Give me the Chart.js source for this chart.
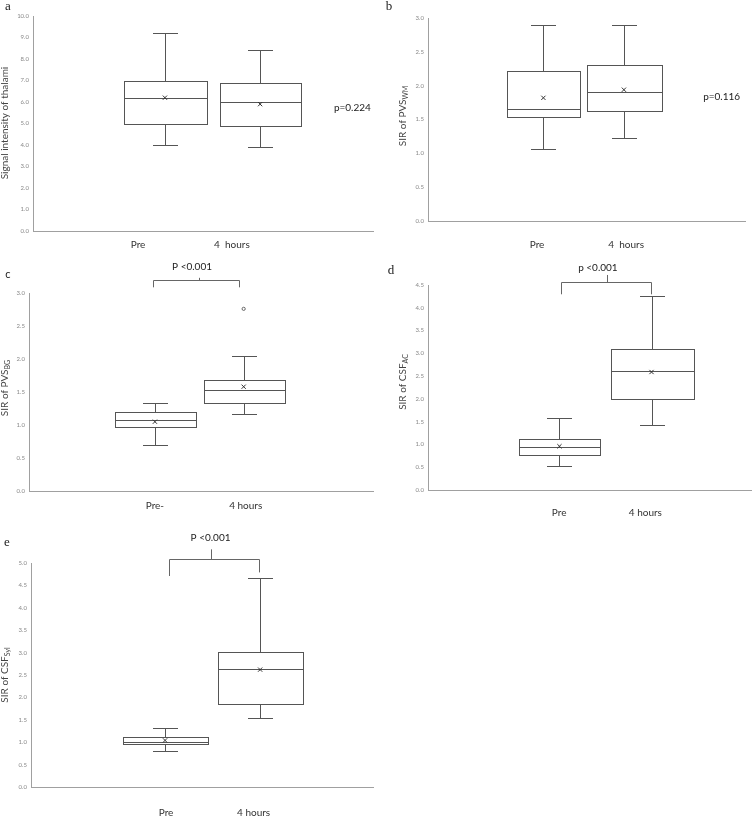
<!DOCTYPE html>
<html>
<head>
<meta charset="utf-8">
<script src="https://cdn.jsdelivr.net/npm/chart.js@4.4.1/dist/chart.umd.min.js"></script>
<style>
  body { margin: 0; background: #fff; }
  #wrap { position: relative; width: 756px; height: 817px; overflow: hidden; }
</style>
</head>
<body>
<div id="wrap"></div>
<script>
// five-number summaries: [min, q1, median, q3, max]
const thalamiPre = [4.0, 5.0, 6.2, 7.0, 9.2];
const thalamiPost = [3.9, 4.9, 6.0, 6.9, 8.4];
const thalamiMeans = [6.2, 5.9];

const pvsWmPre = [1.06, 1.54, 1.66, 2.22, 2.90];
const pvsWmPost = [1.23, 1.62, 1.91, 2.31, 2.90];
const pvsWmMeans = [1.82, 1.94];

const pvsBgPre = [0.70, 0.97, 1.07, 1.19, 1.33];
const pvsBgPost = [1.16, 1.33, 1.53, 1.68, 2.04];
const pvsBgMeans = [1.05, 1.58];
const pvsBgOutliersPost = [2.76];

const csfAcPre = [0.52, 0.77, 0.94, 1.11, 1.57];
const csfAcPost = [1.43, 1.99, 2.62, 3.10, 4.25];
const csfAcMeans = [0.96, 2.59];

const csfSylPre = [0.80, 0.95, 1.00, 1.11, 1.31];
const csfSylPost = [1.54, 1.86, 2.64, 3.02, 4.67];
const csfSylMeans = [1.04, 2.62];

const labelsAB = ['Pre', '4  hours'];
const labelsC = ['Pre-', '4 hours'];
const labelsDE = ['Pre', '4 hours'];

const wrap = document.getElementById('wrap');
const SANS = 'Lato, "Open Sans", sans-serif';
const SERIF = '"Liberation Serif", "DejaVu Serif", serif';

function boxPlugin(cfg) {
    return {
        id: 'boxes',
        beforeDatasetsDraw(chart) {
            const { ctx, scales: { x, y } } = chart;
            const crisp = v => Math.round(v) + 0.5;
            ctx.save();
            ctx.strokeStyle = '#555';
            ctx.lineWidth = 1;
            [cfg.pre, cfg.post].forEach((b, i) => {
                const cx = crisp(x.getPixelForValue(cfg.xPos[i]));
                const hw = x.getPixelForValue(cfg.xPos[i] + cfg.boxHalf[i]) - x.getPixelForValue(cfg.xPos[i]);
                const cw = x.getPixelForValue(cfg.xPos[i] + cfg.capHalf) - x.getPixelForValue(cfg.xPos[i]);
                const [mn, q1, md, q3, mx] = b.map(v => crisp(y.getPixelForValue(v)));
                ctx.beginPath();
                ctx.moveTo(cx, mx); ctx.lineTo(cx, q3);
                ctx.moveTo(cx, q1); ctx.lineTo(cx, mn);
                ctx.moveTo(Math.round(cx - cw), mx); ctx.lineTo(Math.round(cx + cw), mx);
                ctx.moveTo(Math.round(cx - cw), mn); ctx.lineTo(Math.round(cx + cw), mn);
                ctx.stroke();
                const l = crisp(cx - hw), r = crisp(cx + hw);
                ctx.fillStyle = '#fff';
                ctx.fillRect(l, q3, r - l, q1 - q3);
                ctx.strokeRect(l, q3, r - l, q1 - q3);
                ctx.beginPath();
                ctx.moveTo(l, md); ctx.lineTo(r, md);
                ctx.stroke();
            });
            ctx.restore();
        },
        afterDraw(chart) {
            const { ctx, scales: { x, y } } = chart;
            ctx.save();
            // panel letter
            ctx.fillStyle = '#222';
            ctx.font = cfg.letterFont;
            ctx.textAlign = 'center';
            ctx.textBaseline = 'middle';
            ctx.fillText(cfg.letter, cfg.letterAt[0], cfg.letterAt[1]);

            // y axis title, with optional subscript
            ctx.save();
            ctx.translate(cfg.titleAt[0], cfg.titleAt[1]);
            ctx.rotate(-Math.PI / 2);
            ctx.fillStyle = '#444';
            ctx.font = '10px ' + SANS;
            const mainW = ctx.measureText(cfg.title).width;
            ctx.font = '7px ' + SANS;
            const subW = cfg.sub ? ctx.measureText(cfg.sub).width : 0;
            const start = -(mainW + subW) / 2;
            ctx.textAlign = 'left';
            ctx.textBaseline = 'middle';
            ctx.font = '10px ' + SANS;
            ctx.fillText(cfg.title, start, 0);
            if (cfg.sub) {
                ctx.font = '7px ' + SANS;
                ctx.fillText(cfg.sub, start + mainW, 3);
            }
            ctx.restore();

            // p value text
            ctx.fillStyle = '#222';
            ctx.font = '10px ' + SANS;
            if (cfg.pText) {
                ctx.textAlign = 'left';
                ctx.fillText(cfg.pText.text, x.getPixelForValue(cfg.pText.x), y.getPixelForValue(cfg.pText.y));
            }
            // significance bracket
            if (cfg.bracket) {
                const bk = cfg.bracket;
                const c = v => Math.round(v) + 0.5;
                const x1 = c(x.getPixelForValue(bk.x1)), x2 = c(x.getPixelForValue(bk.x2));
                const yb = c(y.getPixelForValue(bk.y));
                const tx = c(x.getPixelForValue(bk.tickX));
                ctx.strokeStyle = '#666';
                ctx.lineWidth = 1;
                ctx.beginPath();
                ctx.moveTo(x1, y.getPixelForValue(bk.legs[0]));
                ctx.lineTo(x1, yb);
                ctx.lineTo(x2, yb);
                ctx.lineTo(x2, y.getPixelForValue(bk.legs[1]));
                ctx.moveTo(tx, yb);
                ctx.lineTo(tx, y.getPixelForValue(bk.tickTop));
                ctx.stroke();
                ctx.textAlign = 'center';
                ctx.fillText(bk.text, x.getPixelForValue(bk.textX), y.getPixelForValue(bk.textY));
            }
            ctx.restore();
        }
    };
}

function makePanel(cfg) {
    const canvas = document.createElement('canvas');
    canvas.width = cfg.w;
    canvas.height = cfg.h;
    canvas.style.cssText = `position:absolute;left:${cfg.left}px;top:${cfg.top}px;width:${cfg.w}px;height:${cfg.h}px`;
    wrap.appendChild(canvas);

    const meanPts = cfg.means.map((m, i) => ({ x: cfg.xPos[i], y: m }));
    const outPts = (cfg.outliers || []).map(v => ({ x: cfg.xPos[1], y: v }));

    new Chart(canvas, {
        type: 'scatter',
        data: {
            datasets: [
                { data: meanPts, pointStyle: 'crossRot', pointRadius: 3, borderColor: '#333', borderWidth: 1 },
                { data: outPts, pointStyle: 'circle', pointRadius: 1.6, borderColor: '#666', backgroundColor: '#fff', borderWidth: 1 }
            ]
        },
        options: {
            responsive: false,
            animation: false,
            events: [],
            layout: { padding: { top: cfg.padTop, right: cfg.padRight, left: 0, bottom: 0 } },
            plugins: { legend: { display: false }, tooltip: { enabled: false } },
            scales: {
                x: {
                    type: 'linear', min: 0, max: 1,
                    grid: { display: false, drawTicks: false },
                    border: { color: '#a0a0a0', width: 1 },
                    afterBuildTicks: s => { s.ticks = cfg.labelPos.map(v => ({ value: v })); },
                    afterFit: s => { s.height = cfg.xH; },
                    ticks: {
                        padding: cfg.labelPad, maxRotation: 0, autoSkip: false,
                        color: '#333', font: { family: SANS, size: 10 },
                        callback: (v, i) => cfg.labels[i]
                    }
                },
                y: {
                    min: 0, max: cfg.yMax,
                    grid: { display: false, drawTicks: false },
                    border: { color: '#a0a0a0', width: 1 },
                    afterFit: s => { s.width = cfg.yW; },
                    ticks: {
                        stepSize: cfg.yStep, padding: 4,
                        color: '#888', font: { family: SANS, size: 6 },
                        callback: v => v.toFixed(1)
                    }
                }
            }
        },
        plugins: [boxPlugin(cfg)]
    });
}

makePanel({
    left: 0, top: 0, w: 378, h: 255, yW: 33, xH: 24, padTop: 16, padRight: 5,
    yMax: 10, yStep: 1, labelPad: 8,
    pre: thalamiPre, post: thalamiPost, means: thalamiMeans,
    xPos: [0.388, 0.668], boxHalf: [0.1235, 0.118], capHalf: 0.038,
    labels: labelsAB, labelPos: [0.309, 0.585],
    pText: { text: 'p=0.224', x: 0.885, y: 5.72 },
    letter: 'a', letterAt: [8, 7], letterFont: '13px ' + SERIF,
    title: 'Signal intensity of thalami', titleAt: [5, 123]
});

makePanel({
    left: 378, top: 0, w: 378, h: 255, yW: 50, xH: 34, padTop: 18, padRight: 11,
    yMax: 3, yStep: 0.5, labelPad: 18,
    pre: pvsWmPre, post: pvsWmPost, means: pvsWmMeans,
    xPos: [0.364, 0.618], boxHalf: [0.115, 0.117], capHalf: 0.038,
    labels: labelsAB, labelPos: [0.344, 0.625],
    pText: { text: 'p=0.116', x: 0.868, y: 1.84 },
    letter: 'b', letterAt: [11, 7], letterFont: '13px ' + SERIF,
    title: 'SIR of PVS', sub: 'WM', titleAt: [25, 116]
});

makePanel({
    left: 0, top: 255, w: 378, h: 270, yW: 29, xH: 34, padTop: 38, padRight: 3,
    yMax: 3, yStep: 0.5, labelPad: 9,
    pre: pvsBgPre, post: pvsBgPost, means: pvsBgMeans, outliers: pvsBgOutliersPost,
    xPos: [0.366, 0.624], boxHalf: [0.117, 0.118], capHalf: 0.036,
    labels: labelsC, labelPos: [0.366, 0.630],
    bracket: { x1: 0.360, x2: 0.610, y: 3.19, legs: [3.086, 3.086], tickX: 0.494, tickTop: 3.23,
               text: 'P <0.001', textX: 0.474, textY: 3.39 },
    letter: 'c', letterAt: [8, 19], letterFont: '11px ' + SANS,
    title: 'SIR of PVS', sub: 'BG', titleAt: [5, 133]
});

makePanel({
    left: 378, top: 255, w: 378, h: 270, yW: 50, xH: 35, padTop: 30, padRight: 1,
    yMax: 4.5, yStep: 0.5, labelPad: 17,
    pre: csfAcPre, post: csfAcPost, means: csfAcMeans,
    xPos: [0.407, 0.692], boxHalf: [0.126, 0.128], capHalf: 0.04,
    labels: labelsDE, labelPos: [0.406, 0.673],
    bracket: { x1: 0.411, x2: 0.690, y: 4.56, legs: [4.296, 4.296], tickX: 0.553, tickTop: 4.72,
               text: 'p <0.001', textX: 0.526, textY: 4.88 },
    letter: 'd', letterAt: [13, 16], letterFont: '13px ' + SERIF,
    title: 'SIR of CSF', sub: 'AC', titleAt: [25, 127]
});

makePanel({
    left: 0, top: 530, w: 378, h: 287, yW: 31, xH: 30, padTop: 33, padRight: 3,
    yMax: 5, yStep: 0.5, labelPad: 20,
    pre: csfSylPre, post: csfSylPost, means: csfSylMeans,
    xPos: [0.392, 0.670], boxHalf: [0.125, 0.125], capHalf: 0.038,
    labels: labelsDE, labelPos: [0.395, 0.651],
    bracket: { x1: 0.404, x2: 0.668, y: 5.10, legs: [4.71, 4.79], tickX: 0.527, tickTop: 5.305,
               text: 'P <0.001', textX: 0.525, textY: 5.566 },
    letter: 'e', letterAt: [7, 13], letterFont: '13px ' + SERIF,
    title: 'SIR of CSF', sub: 'Syl', titleAt: [5, 145]
});
</script>
</body>
</html>
